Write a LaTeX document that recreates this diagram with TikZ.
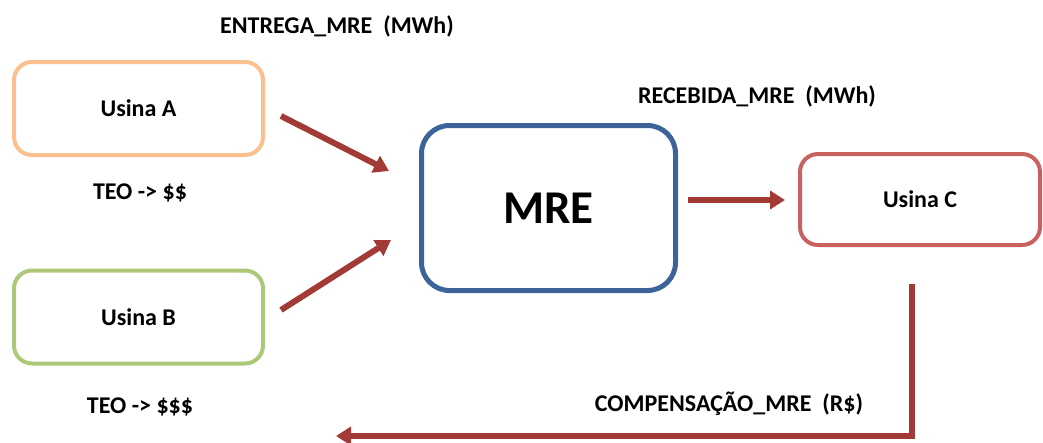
\documentclass[tikz,border=0pt]{standalone}
\usepackage{fontspec}
\setmainfont{Carlito}
\usetikzlibrary{arrows.meta}
\definecolor{laranja}{HTML}{FAC090}
\definecolor{verde}{HTML}{ADC878}
\definecolor{azul}{HTML}{3C6499}
\definecolor{rosa}{HTML}{C9625F}
\definecolor{vinho}{HTML}{A23B36}

\begin{document}
\begin{tikzpicture}[x=1pt,y=-1pt,
      every node/.style={font=\bfseries\fontsize{24}{28}\selectfont},
      usina/.style={draw,rounded corners=18pt,line width=4pt,
        minimum width=249pt,minimum height=93pt},
      seta/.style={draw=vinho,line width=6pt,
        -{Triangle[width=18pt,length=15pt]}}]
      \useasboundingbox (0,0) rectangle (1043,442);
      % caixas
      \node[usina,draw=laranja] (ua) at (138.5,108.5) {Usina A};
      \node[usina,draw=verde] (ub) at (138.5,317) {Usina B};
      \node[usina,draw=azul,line width=5pt,rounded corners=28pt,
        minimum width=254pt,minimum height=165pt,
        font=\bfseries\fontsize{47}{52}\selectfont] (mre) at (548.5,208) {MRE};
      \node[usina,draw=rosa,minimum width=240pt,minimum height=91pt] (uc) at (920,199.5) {Usina C};
      % textos
      \node (entrega) at (337,26) {ENTREGA\_MRE\ \ (MWh)};
      \node (recebida) at (757,96) {RECEBIDA\_MRE\ \ (MWh)};
      \node (teoa) at (140,193) {TEO -> \$\$};
      \node (teob) at (140,407) {TEO -> \$\$\$};
      \node (comp) at (729,404) {COMPENSAÇÃO\_MRE\ \ (R\$)};
      % setas
      \coordinate (a1) at (281,116);
      \coordinate (a2) at (389,171);
      \coordinate (b1) at (281,310);
      \coordinate (b2) at (391,240);
      \coordinate (m1) at (688,200);
      \coordinate (m2) at (785,200);
      \coordinate (c1) at (912,284);
      \coordinate (c2) at (336,436);
      \draw[seta] (a1) -- (a2);
      \draw[seta] (b1) -- (b2);
      \draw[seta] (m1) -- (m2);
      \draw[seta] (c1) |- (c2);
\end{tikzpicture}
\end{document}
